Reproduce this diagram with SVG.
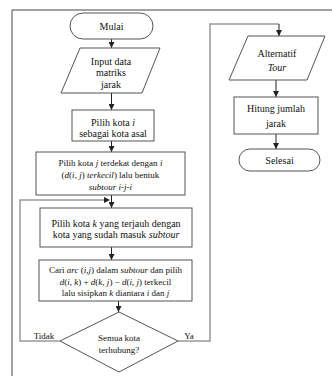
<svg xmlns="http://www.w3.org/2000/svg" width="332" height="376" viewBox="0 0 332 376">
<defs>
<marker id="ah" viewBox="0 0 6 6" refX="6" refY="3" markerWidth="6" markerHeight="6" markerUnits="userSpaceOnUse" orient="auto">
<path d="M0,0 L6,3 L0,6 Z" fill="#222"/>
</marker>
<style>
.s{fill:#fff;stroke:#555;stroke-width:1}
.t{font-family:'Liberation Serif','Times New Roman',serif;font-size:10px;fill:#111;text-anchor:middle}
.sm{font-size:9px}
.i{font-style:italic}
.c{fill:none;stroke:#222;stroke-width:1}
.l{fill:none;stroke:#999;stroke-width:1.5}
</style>
</defs>
<rect width="332" height="376" fill="#fff"/>
<path d="M12,376 V10 H332" fill="none" stroke="#444" stroke-width="1"/>

<g id="connectors">
<line class="c" x1="111.5" y1="39" x2="111.5" y2="48" marker-end="url(#ah)"/>
<line class="c" x1="111.5" y1="93" x2="111.5" y2="110" marker-end="url(#ah)"/>
<line class="c" x1="111.5" y1="141" x2="111.5" y2="152" marker-end="url(#ah)"/>
<line class="c" x1="111.5" y1="195" x2="111.5" y2="208" marker-end="url(#ah)"/>
<line class="c" x1="111.5" y1="247" x2="111.5" y2="260" marker-end="url(#ah)"/>
<line class="c" x1="118.5" y1="301" x2="118.5" y2="312" marker-end="url(#ah)"/>
<path class="l" d="M60,341 H20 V200 H104"/>
<path d="M104,197 L110,200 L104,203 Z" fill="#222"/>
<path class="l" d="M178,341 H210 V24 H279"/>
<line class="c" x1="279" y1="24" x2="279" y2="36" marker-end="url(#ah)"/>
<line class="c" x1="276" y1="80" x2="276" y2="97" marker-end="url(#ah)"/>
<line class="c" x1="276" y1="134" x2="276" y2="149" marker-end="url(#ah)"/>
<text class="t sm" x="44" y="339">Tidak</text>
<text class="t sm" x="189" y="339">Ya</text>
</g>

<g id="mulai">
<rect class="s" x="70" y="13" width="83" height="26" rx="13"/>
<text class="t" x="111.5" y="29.5">Mulai</text>
</g>

<g id="input">
<polygon class="s" points="80,48 160,48 142,93 61,93"/>
<text class="t" x="111" y="64.5">Input data</text>
<text class="t" x="111" y="76">matriks</text>
<text class="t" x="111" y="87.5">jarak</text>
</g>

<g id="pilih-i">
<rect class="s" x="72" y="110" width="82" height="31"/>
<text class="t" x="113" y="125.5">Pilih kota <tspan class="i">i</tspan></text>
<text class="t" x="113" y="137">sebagai kota asal</text>
</g>

<g id="pilih-j">
<rect class="s" x="36" y="152" width="149" height="43"/>
<text class="t sm" x="110.5" y="166">Pilih kota <tspan class="i">j</tspan> terdekat dengan <tspan class="i">i</tspan></text>
<text class="t sm" x="110.5" y="178">(<tspan class="i">d</tspan>(<tspan class="i">i</tspan>, <tspan class="i">j</tspan>) <tspan class="i">terkecil</tspan>) lalu bentuk</text>
<text class="t sm i" x="110.5" y="190">subtour i-j-i</text>
</g>

<g id="pilih-k">
<rect class="s" x="40" y="208" width="152" height="39"/>
<text class="t" x="116" y="226.5">Pilih kota <tspan class="i">k</tspan> yang terjauh dengan</text>
<text class="t" x="116" y="238">kota yang sudah masuk <tspan class="i">subtour</tspan></text>
</g>

<g id="cari-arc">
<rect class="s" x="39" y="260" width="153" height="41"/>
<text class="t sm" x="115.5" y="273">Cari <tspan class="i">arc</tspan> (<tspan class="i">i,j</tspan>) dalam <tspan class="i">subtour</tspan> dan pilih</text>
<text class="t sm" x="115.5" y="284.5"><tspan class="i">d</tspan>(<tspan class="i">i</tspan>, <tspan class="i">k</tspan>) + <tspan class="i">d</tspan>(<tspan class="i">k</tspan>, <tspan class="i">j</tspan>) − <tspan class="i">d</tspan>(<tspan class="i">i</tspan>, <tspan class="i">j</tspan>) terkecil</text>
<text class="t sm" x="115.5" y="295.5">lalu sisipkan <tspan class="i">k</tspan> diantara <tspan class="i">i</tspan> dan <tspan class="i">j</tspan></text>
</g>

<g id="semua-kota">
<polygon class="s" points="119,312 178,341 119,372 60,341"/>
<text class="t sm" x="119" y="341">Semua kota</text>
<text class="t sm" x="119" y="353">terhubung?</text>
</g>

<g id="alternatif">
<polygon class="s" points="248,36 325,36 307,80 229,80"/>
<text class="t" x="277" y="57">Alternatif</text>
<text class="t i" x="277" y="70.5">Tour</text>
</g>

<g id="hitung">
<rect class="s" x="234" y="97" width="84" height="37"/>
<text class="t" x="276" y="112">Hitung jumlah</text>
<text class="t" x="276" y="126.5">jarak</text>
</g>

<g id="selesai">
<rect class="s" x="239" y="149" width="81" height="22" rx="11"/>
<text class="t" x="279.5" y="163.5">Selesai</text>
</g>
</svg>
